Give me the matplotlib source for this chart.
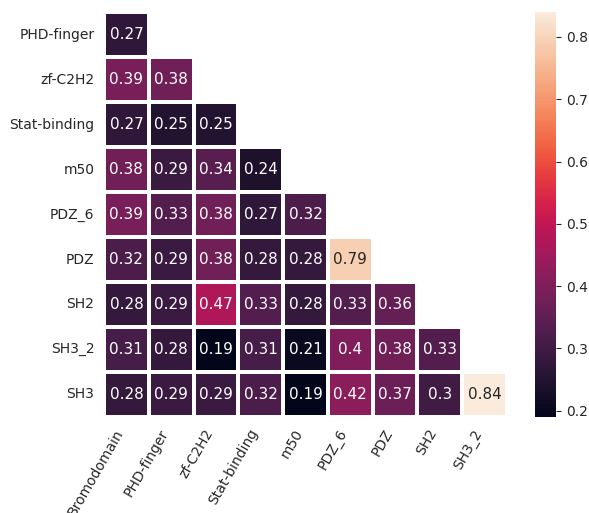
import numpy as np
import pandas as pd
import matplotlib
matplotlib.use("Agg")
import matplotlib.pyplot as plt
import seaborn as sns

# domain families (rows drop the first, columns drop the last)
domains = ["Bromodomain", "PHD-finger", "zf-C2H2", "Stat-binding", "m50",
           "PDZ_6", "PDZ", "SH2", "SH3_2", "SH3"]
row_labels = domains[1:]
col_labels = domains[:-1]

# lower-triangle similarity values, one list per row
r_phd = [0.27]
r_zf = [0.39, 0.38]
r_stat = [0.27, 0.25, 0.25]
r_m50 = [0.38, 0.29, 0.34, 0.24]
r_pdz6 = [0.39, 0.33, 0.38, 0.27, 0.32]
r_pdz = [0.32, 0.29, 0.38, 0.28, 0.28, 0.79]
r_sh2 = [0.28, 0.29, 0.47, 0.33, 0.28, 0.33, 0.36]
r_sh32 = [0.31, 0.28, 0.19, 0.31, 0.21, 0.40, 0.38, 0.33]
r_sh3 = [0.28, 0.29, 0.29, 0.32, 0.19, 0.42, 0.37, 0.30, 0.84]
rows = [r_phd, r_zf, r_stat, r_m50, r_pdz6, r_pdz, r_sh2, r_sh32, r_sh3]

n = len(row_labels)
mat = np.full((n, n), np.nan)
for i, r in enumerate(rows):
    mat[i, :len(r)] = r
df = pd.DataFrame(mat, index=row_labels, columns=col_labels)
mask = np.triu(np.ones((n, n), dtype=bool), k=1)

sns.set_theme(style="white")
plt.rcParams['font.family'] = ['DejaVu Sans']
plt.rcParams['xtick.labelsize'] = 10
plt.rcParams['ytick.labelsize'] = 10
for a in ('xtick', 'ytick'):
    plt.rcParams[a + '.major.size'] = 3.5
    plt.rcParams[a + '.major.width'] = 0.8
    plt.rcParams[a + '.major.pad'] = 3.5

fig = plt.figure(figsize=(5.89, 5.13), dpi=100)
ax = fig.add_axes([104/589, 1 - 417/513, 403/589, 405/513])
cax = fig.add_axes([535/589, 1 - 417/513, 21/589, 405/513])

sns.heatmap(df, mask=mask, annot=True, fmt=".2g", linewidths=1.5,
            linecolor="white", ax=ax, cbar_ax=cax, square=False,
            annot_kws={"fontsize": 11})

ax.set_xticklabels(ax.get_xticklabels(), rotation=60, ha="right")
ax.set_yticklabels(ax.get_yticklabels(), rotation=0)
cax.tick_params(labelsize=10, length=3.5, width=0.8, pad=3.5)

fig.savefig("out.png", dpi=100)
